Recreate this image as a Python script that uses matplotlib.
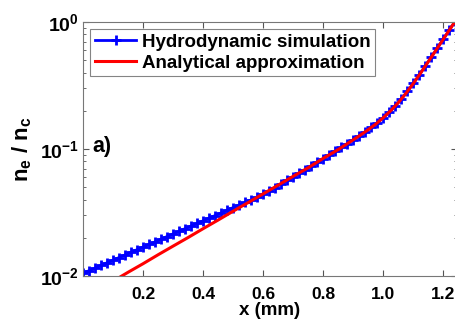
import matplotlib
matplotlib.use('Agg')
import matplotlib.pyplot as plt
from matplotlib.ticker import FixedLocator, LogLocator, NullFormatter

plt.rcParams['font.family'] = ['Liberation Sans', 'DejaVu Sans']
plt.rcParams['font.weight'] = 'bold'
plt.rcParams['mathtext.fontset'] = 'custom'
plt.rcParams['mathtext.bf'] = 'Liberation Sans:bold'
plt.rcParams['mathtext.rm'] = 'Liberation Sans:bold'
plt.rcParams['mathtext.default'] = 'bf'

# hydrodynamic simulation (x in mm, n_e/n_c)
x_sim = [0.00, 0.02, 0.04, 0.06, 0.08, 0.10, 0.12, 0.14, 0.16, 0.18,
         0.20, 0.22, 0.24, 0.26, 0.28, 0.30, 0.32, 0.34, 0.36, 0.38,
         0.40, 0.42, 0.44, 0.46, 0.48, 0.50, 0.52, 0.54, 0.56, 0.58,
         0.60, 0.62, 0.64, 0.66, 0.68, 0.70, 0.72, 0.74, 0.76, 0.78,
         0.80, 0.82, 0.84, 0.86, 0.88, 0.90, 0.92, 0.94, 0.96, 0.98,
         1.00, 1.02, 1.04, 1.06, 1.08, 1.10, 1.12, 1.14, 1.16, 1.18,
         1.20, 1.22, 1.24]
n_sim = [0.0105, 0.01101, 0.01153, 0.01211, 0.01271, 0.01331, 0.01397, 0.01466, 0.01538, 0.01611,
         0.01690, 0.01774, 0.01858, 0.01950, 0.02046, 0.02148, 0.02249, 0.02360, 0.02477, 0.02594,
         0.02723, 0.02858, 0.02992, 0.03141, 0.03296, 0.03459, 0.03622, 0.03795, 0.03975, 0.04175,
         0.04395, 0.04650, 0.0496, 0.0530, 0.0565, 0.0603, 0.0643, 0.0685, 0.0733, 0.0783,
         0.0841, 0.0897, 0.0959, 0.1028, 0.1102, 0.1183, 0.1271, 0.1368, 0.1479, 0.1611,
         0.1766, 0.1954, 0.2188, 0.2477, 0.2838, 0.3289, 0.3846, 0.4519, 0.5309, 0.6252,
         0.7362, 0.8670, 1.021]

# analytical approximation
x_ana = [0.10, 0.15, 0.20, 0.25, 0.30, 0.35, 0.40, 0.45, 0.50, 0.55,
         0.60, 0.65, 0.70, 0.75, 0.80, 0.85, 0.90, 0.925, 0.95, 0.975,
         1.00, 1.025, 1.05, 1.075, 1.10, 1.125, 1.15, 1.175, 1.20, 1.225,
         1.25]
n_ana = [0.0091, 0.0107, 0.0125, 0.0147, 0.0172, 0.0201, 0.0236, 0.0276, 0.0324, 0.0379,
         0.0444, 0.0520, 0.0610, 0.0713, 0.0845, 0.0991, 0.1183, 0.1294, 0.1422, 0.1574,
         0.1766, 0.2009, 0.2323, 0.2742, 0.3289, 0.3999, 0.4898, 0.5998, 0.7362, 0.9036,
         1.109]

x_ticks = [0.2, 0.4, 0.6, 0.8, 1.0, 1.2]
x_ticklabels = ['0.2', '0.4', '0.6', '0.8', '1.0', '1.2']

fig = plt.figure(figsize=(4.56, 3.24), dpi=100)
ax = fig.add_axes([83 / 456, 48 / 324, 374 / 456, 254 / 324])

ax.semilogy(x_sim, n_sim, color='#0000ff', lw=2, marker='+', ms=7, mew=2,
            label='Hydrodynamic simulation')
ax.semilogy(x_ana, n_ana, color='#ff0000', lw=2.2, label='Analytical approximation')

ax.set_xlim(0, 1.245)
ax.set_ylim(1e-2, 1)
ax.xaxis.set_major_locator(FixedLocator(x_ticks))
ax.set_xticklabels(x_ticklabels)
ax.yaxis.set_major_locator(LogLocator(base=10, numticks=5))
ax.yaxis.set_minor_locator(LogLocator(base=10, subs=range(2, 10), numticks=10))
ax.yaxis.set_minor_formatter(NullFormatter())

ax.tick_params(which='both', direction='in', top=True, right=True, colors='#555555',
               labelcolor='black')
ax.tick_params(axis='x', labelsize=12.5, pad=8)
ax.tick_params(axis='y', labelsize=14, pad=3)
ax.tick_params(which='major', length=4, width=0.8)
ax.tick_params(which='minor', length=2.5, width=0.6)
for s in ax.spines.values():
    s.set_color('#777777')
    s.set_linewidth(0.8)

ax.set_xlabel('x (mm)', fontsize=13.5, fontweight='bold', labelpad=0)
ax.set_ylabel(r'$n_e$ / $n_c$', fontsize=16, fontweight='bold', labelpad=4)
ax.text(0.025, 0.51, 'a)', transform=ax.transAxes, fontsize=15.5, fontweight='bold',
        va='center', ha='left')

leg = ax.legend(loc='upper left', bbox_to_anchor=(0.005, 0.995), fontsize=13.5,
                frameon=True, fancybox=False, handlelength=2.2, handletextpad=0.3,
                borderpad=0.25, labelspacing=0.2, borderaxespad=0.3)
leg.get_frame().set_edgecolor('#666666')
leg.get_frame().set_linewidth(0.8)
for t in leg.get_texts():
    t.set_fontweight('bold')

fig.savefig('out.png', dpi=100)
